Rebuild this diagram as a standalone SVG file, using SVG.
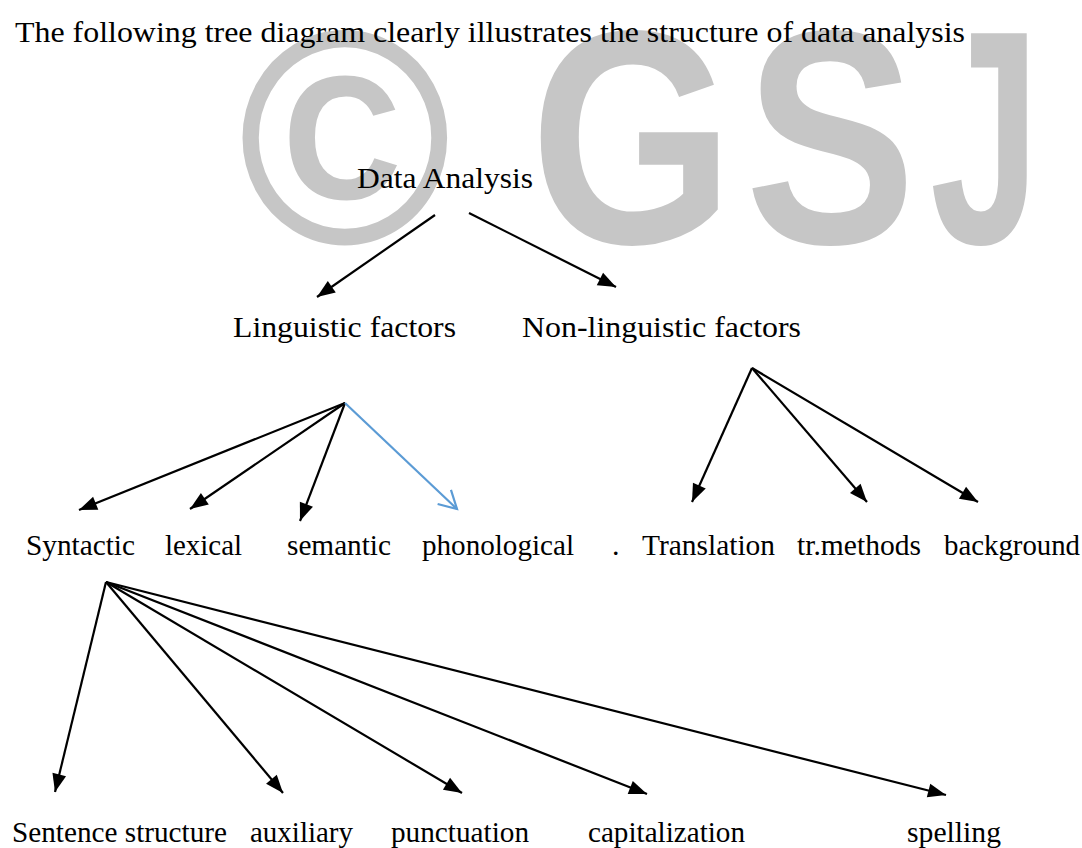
<svg xmlns="http://www.w3.org/2000/svg" width="1082" height="848" viewBox="0 0 1082 848">
  <style>
    .t { font-family: "Liberation Serif", "Times New Roman", serif; font-size: 30px; fill: #000; }
    .wm { font-family: "Liberation Sans", Arial, sans-serif; font-weight: bold; font-size: 305px; fill: #c6c6c6; }
    .edge { stroke: #000; stroke-width: 2.2; fill: none; }
    .blue { stroke: #5b9bd5; stroke-width: 2.2; fill: none; }
  </style>
  <defs>
    <marker id="ah" markerUnits="userSpaceOnUse" markerWidth="18" markerHeight="14" refX="18" refY="7" orient="auto" overflow="visible">
      <path d="M0,0 L18,7 L0,14 z" fill="#000"/>
    </marker>
    <marker id="oh" markerUnits="userSpaceOnUse" markerWidth="20" markerHeight="20" refX="17.5" refY="9.7" orient="auto" overflow="visible">
      <path d="M0,0 L17.5,9.7 L0,19.4" fill="none" stroke="#5b9bd5" stroke-width="2.2"/>
    </marker>
  </defs>
  <rect width="1082" height="848" fill="#fff"/>
  <g id="watermark">
    <text class="wm" transform="translate(238,243) scale(0.95,1)">©</text>
    <text class="wm" transform="translate(530,243) scale(0.86,1)">G</text>
    <text class="wm" transform="translate(745,243) scale(0.84,1)">S</text>
    <text class="wm" transform="translate(930,243) scale(0.65,1)">J</text>
  </g>
  <g id="title"><text class="t" x="15" y="42" textLength="950" lengthAdjust="spacingAndGlyphs">The following tree diagram clearly illustrates the structure of data analysis</text></g>
  <g id="connectors">
    <line class="edge" x1="435" y1="215" x2="317" y2="297" marker-end="url(#ah)"/>
    <line class="edge" x1="469" y1="213" x2="616" y2="287" marker-end="url(#ah)"/>
    <line class="edge" x1="345" y1="403" x2="79" y2="510" marker-end="url(#ah)"/>
    <line class="edge" x1="345" y1="403" x2="190" y2="509" marker-end="url(#ah)"/>
    <line class="edge" x1="345" y1="403" x2="300" y2="521" marker-end="url(#ah)"/>
    <line class="blue" x1="345" y1="403" x2="457" y2="509" marker-end="url(#oh)"/>
    <line class="edge" x1="752" y1="368" x2="692" y2="502" marker-end="url(#ah)"/>
    <line class="edge" x1="752" y1="368" x2="867" y2="502" marker-end="url(#ah)"/>
    <line class="edge" x1="752" y1="368" x2="978" y2="502" marker-end="url(#ah)"/>
    <line class="edge" x1="106" y1="582" x2="55" y2="792" marker-end="url(#ah)"/>
    <line class="edge" x1="106" y1="582" x2="283" y2="793" marker-end="url(#ah)"/>
    <line class="edge" x1="106" y1="582" x2="462" y2="793" marker-end="url(#ah)"/>
    <line class="edge" x1="106" y1="582" x2="647" y2="794" marker-end="url(#ah)"/>
    <line class="edge" x1="106" y1="582" x2="946" y2="795" marker-end="url(#ah)"/>
  </g>
  <g id="n-data"><text class="t" x="357" y="188" textLength="176" lengthAdjust="spacingAndGlyphs">Data Analysis</text></g>
  <g id="n-ling"><text class="t" x="233" y="337" textLength="223" lengthAdjust="spacingAndGlyphs">Linguistic factors</text></g>
  <g id="n-nonling"><text class="t" x="522" y="337" textLength="279" lengthAdjust="spacingAndGlyphs">Non-linguistic factors</text></g>
  <g id="n-syntactic"><text class="t" x="26" y="555" textLength="109" lengthAdjust="spacingAndGlyphs">Syntactic</text></g>
  <g id="n-lexical"><text class="t" x="165" y="555" textLength="77" lengthAdjust="spacingAndGlyphs">lexical</text></g>
  <g id="n-semantic"><text class="t" x="287" y="555" textLength="104" lengthAdjust="spacingAndGlyphs">semantic</text></g>
  <g id="n-phonological"><text class="t" x="422" y="555" textLength="152" lengthAdjust="spacingAndGlyphs">phonological</text></g>
  <g id="n-dot"><text class="t" x="612" y="555">.</text></g>
  <g id="n-translation"><text class="t" x="642" y="555" textLength="133" lengthAdjust="spacingAndGlyphs">Translation</text></g>
  <g id="n-trmethods"><text class="t" x="797" y="555" textLength="124" lengthAdjust="spacingAndGlyphs">tr.methods</text></g>
  <g id="n-background"><text class="t" x="944" y="555" textLength="136" lengthAdjust="spacingAndGlyphs">background</text></g>
  <g id="n-sentence"><text class="t" x="12" y="842" textLength="215" lengthAdjust="spacingAndGlyphs">Sentence structure</text></g>
  <g id="n-auxiliary"><text class="t" x="250" y="842" textLength="103" lengthAdjust="spacingAndGlyphs">auxiliary</text></g>
  <g id="n-punctuation"><text class="t" x="391" y="842" textLength="138" lengthAdjust="spacingAndGlyphs">punctuation</text></g>
  <g id="n-capitalization"><text class="t" x="588" y="842" textLength="157" lengthAdjust="spacingAndGlyphs">capitalization</text></g>
  <g id="n-spelling"><text class="t" x="907" y="842" textLength="94" lengthAdjust="spacingAndGlyphs">spelling</text></g>
</svg>
